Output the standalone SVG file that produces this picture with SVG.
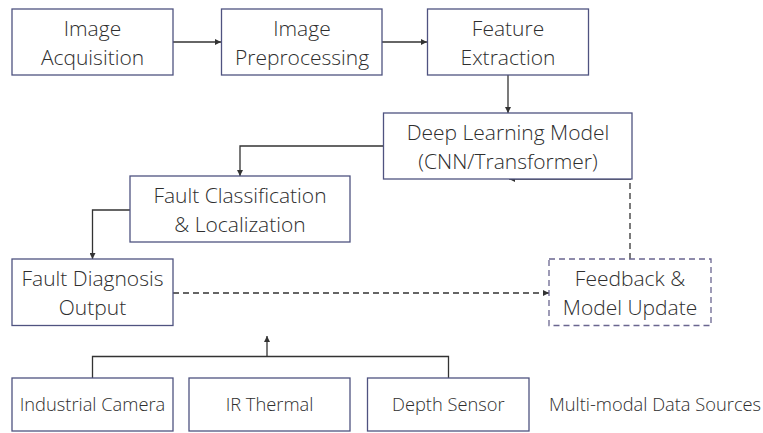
<svg xmlns="http://www.w3.org/2000/svg" width="763" height="433" viewBox="0 0 763 433">
  <style>
    .box { fill: #ffffff; stroke: #4f5380; stroke-width: 1.3; }
    .box-dash { fill: #ffffff; stroke: #6a6690; stroke-width: 1.3; stroke-dasharray: 6 4; }
    .lbl { font-family: "Open Sans", "Noto Sans", "Liberation Sans", sans-serif; font-weight: 300; font-size: 21px; fill: #2e2e2e; text-anchor: middle; }
    .lbl-sm { font-family: "Open Sans", "Noto Sans", "Liberation Sans", sans-serif; font-weight: 300; font-size: 18.3px; fill: #2e2e2e; text-anchor: middle; }
    .note { font-family: "Open Sans", "Noto Sans", "Liberation Sans", sans-serif; font-weight: 300; font-size: 18.3px; fill: #2e2e2e; }
    .conn { fill: none; stroke: #333333; stroke-width: 1.3; }
    .conn-dash { fill: none; stroke: #333333; stroke-width: 1.3; stroke-dasharray: 6 4; }
  </style>
  <defs>
    <marker id="arrow" viewBox="0 0 10 10" refX="10" refY="5" markerWidth="6" markerHeight="6" markerUnits="userSpaceOnUse" orient="auto">
      <path d="M0,0 L10,5 L0,10 Z" fill="#333333"/>
    </marker>
  </defs>
  <rect width="763" height="433" fill="#ffffff"/>

  <!-- connectors -->
  <g id="connectors">
    <path class="conn" d="M173,42 H221" marker-end="url(#arrow)"/>
    <path class="conn" d="M382,42 H427" marker-end="url(#arrow)"/>
    <path class="conn" d="M508,75 V113" marker-end="url(#arrow)"/>
    <path class="conn" d="M383.5,146 H240 V176" marker-end="url(#arrow)"/>
    <path class="conn" d="M130,210 H92.5 V259" marker-end="url(#arrow)"/>
    <path class="conn-dash" d="M173,293 H549" marker-end="url(#arrow)"/>
    <path class="conn-dash" d="M630,259 V179"/>
    <path class="conn" d="M631,179 H509" marker-end="url(#arrow)"/>
    <path class="conn" d="M92.5,378 V356.5 H448.5 V378"/>
    <path class="conn" d="M267,356.5 V336" marker-end="url(#arrow)"/>
  </g>

  <g id="image-acquisition">
    <rect class="box" x="12" y="9" width="161" height="66"/>
    <text class="lbl" x="92.5" y="36">Image</text>
    <text class="lbl" x="92.5" y="65">Acquisition</text>
  </g>
  <g id="image-preprocessing">
    <rect class="box" x="221.5" y="9" width="160.5" height="66"/>
    <text class="lbl" x="302" y="36">Image</text>
    <text class="lbl" x="302" y="65">Preprocessing</text>
  </g>
  <g id="feature-extraction">
    <rect class="box" x="427.5" y="9" width="161" height="66"/>
    <text class="lbl" x="508" y="36">Feature</text>
    <text class="lbl" x="508" y="65">Extraction</text>
  </g>
  <g id="deep-learning-model">
    <rect class="box" x="383.5" y="113" width="248.5" height="66"/>
    <text class="lbl" x="508" y="140">Deep Learning Model</text>
    <text class="lbl" x="508" y="169">(CNN/Transformer)</text>
  </g>
  <g id="fault-classification">
    <rect class="box" x="130" y="176" width="220" height="66"/>
    <text class="lbl" x="240" y="203">Fault Classification</text>
    <text class="lbl" x="240" y="232">&amp; Localization</text>
  </g>
  <g id="fault-diagnosis-output">
    <rect class="box" x="12" y="259" width="161" height="66.5"/>
    <text class="lbl" x="92.5" y="286">Fault Diagnosis</text>
    <text class="lbl" x="92.5" y="315">Output</text>
  </g>
  <g id="feedback-model-update">
    <rect class="box-dash" x="549" y="259" width="162" height="66.5"/>
    <text class="lbl" x="630" y="286">Feedback &amp;</text>
    <text class="lbl" x="630" y="315">Model Update</text>
  </g>
  <g id="industrial-camera">
    <rect class="box" x="12" y="378" width="161" height="53"/>
    <text class="lbl-sm" x="92.5" y="411">Industrial Camera</text>
  </g>
  <g id="ir-thermal">
    <rect class="box" x="189" y="378" width="161" height="53"/>
    <text class="lbl-sm" x="269.5" y="411">IR Thermal</text>
  </g>
  <g id="depth-sensor">
    <rect class="box" x="367.5" y="378" width="161.5" height="53"/>
    <text class="lbl-sm" x="448.3" y="411">Depth Sensor</text>
  </g>
  <text class="note" x="549" y="411">Multi-modal Data Sources</text>
</svg>
